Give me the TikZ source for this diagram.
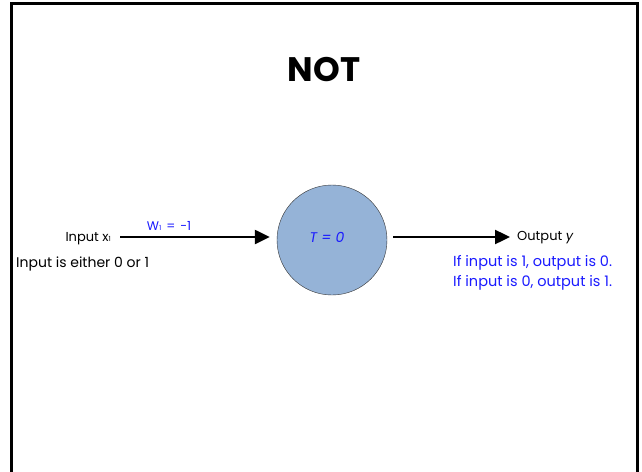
\documentclass[tikz,border=0pt]{standalone}
\usepackage{fontspec}
\setmainfont{Poppins}
\usetikzlibrary{positioning,arrows.meta,calc}
\definecolor{nblue}{HTML}{1A1AFF}
\definecolor{cellfill}{HTML}{95B3D7}

\begin{document}
\begin{tikzpicture}[x=1pt,y=-1pt,
  lbl/.style={inner sep=0pt,font=\fontsize{13}{15}\selectfont},
  note/.style={inner sep=0pt,text=nblue,font=\fontsize{14.5}{20}\selectfont,align=left},
  wire/.style={line width=2.4pt,-{Triangle[length=15pt,width=14pt]}}]
  \useasboundingbox (0,0) rectangle (642,471);
  \draw[line width=3pt] (11,475) -- (11,3) -- (637,3) -- (637,475);
  \node[font=\fontsize{34}{40}\selectfont\bfseries] (title) at (324,70) {NOT};
  \node[circle,draw=black!80,thin,fill=cellfill,minimum size=110pt,inner sep=0pt] (cell) at (332,240) {};
  \node[text=nblue,font=\fontsize{14}{16}\selectfont\itshape] (thr) at (327,237) {T = 0};
  \node[lbl,anchor=east] (in) at (111,239) {Input x{\fontsize{7}{8}\selectfont 1}};
  \node[lbl,anchor=west,font=\fontsize{14}{16}\selectfont] (note0) at (16,264) {Input is either 0 or 1};
  \coordinate (start) at (120,237);
  \coordinate (tip1) at ($(cell.west |- start)+(-7,0)$);
  \draw[wire] (start) -- (tip1);
  \node[text=nblue,font=\fontsize{12.5}{14}\selectfont,inner sep=0pt] (w) at (169,226) {W{\fontsize{7}{8}\selectfont 1}\hspace{5pt}=\hspace{5pt}-1};
  \node[lbl,anchor=west] (out) at (517,238) {Output \textit{y}};
  \coordinate (tail2) at ($(cell.east |- start)+(6,0)$);
  \coordinate (stop) at ($(out.west |- start)+(-7,0)$);
  \draw[wire] (tail2) -- (stop);
  \node[note,anchor=base west] (rule) at (453,286) {If input is 1, output is 0.\\If input is 0, output is 1.};
\end{tikzpicture}
\end{document}
